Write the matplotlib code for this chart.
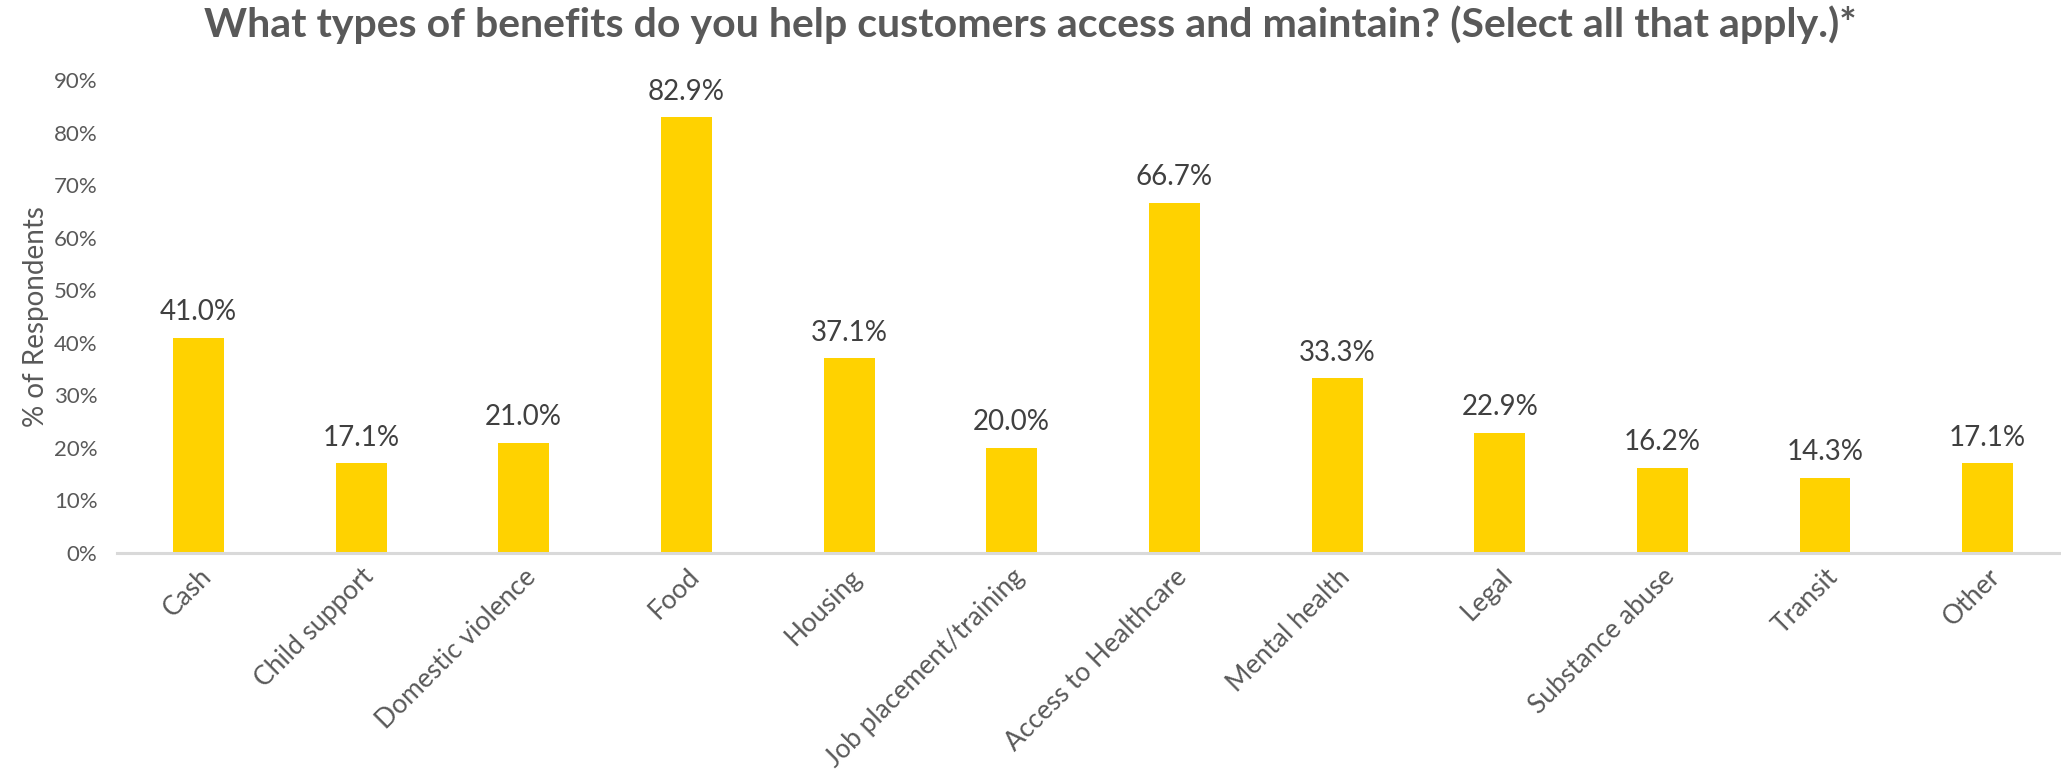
import matplotlib
matplotlib.use("Agg")
import matplotlib.pyplot as plt
from matplotlib.ticker import FuncFormatter, MultipleLocator

# Survey results: share of respondents selecting each benefit type (%)
categories = [
    "Cash", "Child support", "Domestic violence", "Food", "Housing",
    "Job placement/training", "Access to Healthcare", "Mental health",
    "Legal", "Substance abuse", "Transit", "Other",
]
values = [41.0, 17.1, 21.0, 82.9, 37.1, 20.0, 66.7, 33.3, 22.9, 16.2, 14.3, 17.1]

title = "What types of benefits do you help customers access and maintain? (Select all that apply.)*"
y_label = "% of Respondents"

BAR_COLOR = "#FFD200"
TEXT_GRAY = "#595959"
LABEL_DARK = "#404040"
AXIS_GRAY = "#D9D9D9"

plt.rcParams["font.family"] = ["Lato", "DejaVu Sans"]

fig = plt.figure(figsize=(20.61, 7.81), dpi=100)
ax = fig.add_axes([0.0568, 0.2919, 0.9471, 0.6056])

x = range(len(categories))
bars = ax.bar(x, values, width=0.313, color=BAR_COLOR, zorder=2)

ax.set_xlim(-0.5, len(categories) - 0.5)
ax.set_ylim(0, 90)
ax.yaxis.set_major_locator(MultipleLocator(10))
ax.yaxis.set_major_formatter(FuncFormatter(lambda v, _: f"{v:.0f}%"))

for spine in ("top", "right", "left"):
    ax.spines[spine].set_visible(False)
ax.spines["bottom"].set_color(AXIS_GRAY)
ax.spines["bottom"].set_linewidth(2.2)
ax.spines["bottom"].set_zorder(3)

ax.tick_params(axis="y", length=0, pad=14, labelsize=16, labelcolor=TEXT_GRAY)
ax.tick_params(axis="x", length=0, pad=8, labelsize=19, labelcolor=TEXT_GRAY)
ax.set_xticks(list(x))
ax.set_xticklabels(categories, rotation=45, ha="right", va="top",
                   rotation_mode="anchor")

ax.set_ylabel(y_label, fontsize=20, color=TEXT_GRAY)
ax.yaxis.set_label_coords(-0.035, 0.5)

for rect, v in zip(bars, values):
    ax.annotate(f"{v:.1f}%", xy=(rect.get_x() + rect.get_width() / 2, v),
                xytext=(0, 9), textcoords="offset points",
                ha="center", va="bottom", fontsize=20, color=LABEL_DARK)

fig.text(0.5, 0.969, title, ha="center", va="center", fontsize=29.5,
         fontweight="bold", color=TEXT_GRAY)

fig.savefig("out.png", dpi=100, facecolor="white")
